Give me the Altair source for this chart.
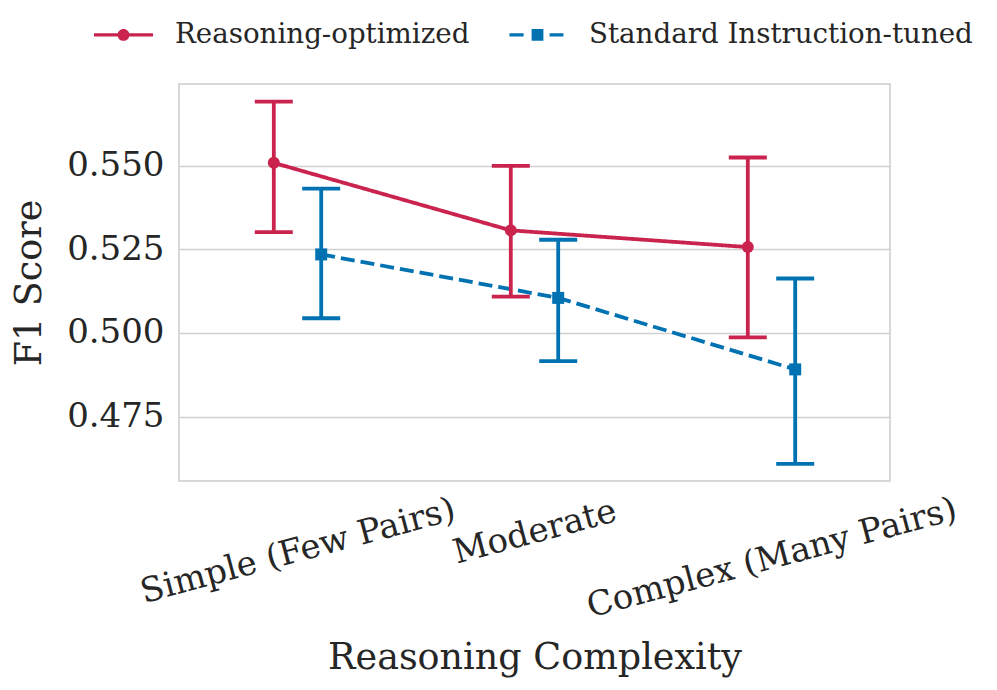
import json
import altair as alt
import pandas as pd

categories = ["Simple (Few Pairs)", "Moderate", "Complex (Many Pairs)"]
series_names = ["Reasoning-optimized", "Standard Instruction-tuned"]
reasoning_mean = [0.5509, 0.5307, 0.5257]
reasoning_lo = [0.5302, 0.5109, 0.4987]
reasoning_hi = [0.5692, 0.5500, 0.5525]
standard_mean = [0.5235, 0.5105, 0.4891]
standard_lo = [0.5044, 0.4916, 0.4608]
standard_hi = [0.5432, 0.5279, 0.5163]
y_ticks = [0.475, 0.500, 0.525, 0.550]

colors = ["#C9234E", "#0072B2"]
FONT = "DejaVu Serif"
TXT = "#262626"
LW = 3.8

rows = []
for i, c in enumerate(categories):
    rows.append(dict(category=c, idx=i, series=series_names[0],
                     mean=reasoning_mean[i], lo=reasoning_lo[i], hi=reasoning_hi[i]))
    rows.append(dict(category=c, idx=i, series=series_names[1],
                     mean=standard_mean[i], lo=standard_lo[i], hi=standard_hi[i]))
df = pd.DataFrame(rows)

label_expr = json.dumps(categories) + "[datum.value]"

x_enc = alt.X(
    "pos:Q",
    scale=alt.Scale(domain=[-0.5, 2.5], nice=False, zero=False),
    axis=alt.Axis(
        values=[0, 1, 2], labelExpr=label_expr, title="Reasoning Complexity",
        grid=False, domain=False, ticks=False, labelAngle=-15, labelLimit=0,
        labelOverlap=False, labelBound=False, labelFlush=False,
        labelAlign="center", labelBaseline="middle",
        labelPadding={"condition": [{"test": "datum.value == 0", "value": 70},
                                    {"test": "datum.value == 1", "value": 51}],
                      "value": 77},
        titlePadding=16,
    ),
)
y_scale = alt.Scale(domain=[0.4557, 0.5745], nice=False, zero=False)
y_axis = alt.Axis(values=y_ticks, format=".3f", title="F1 Score", grid=True,
                  domain=False, ticks=False, labelPadding=15, titlePadding=18)

color_scale = alt.Scale(domain=series_names, range=colors)
color_nolegend = alt.Color("series:N", scale=color_scale, legend=None)

base = alt.Chart(df).transform_calculate(
    pos="datum.idx + (datum.series == '%s' ? -0.1 : 0.1)" % series_names[0]
)

path_red = ("M-1,-0.055H1V0.055H-1Z "
            "M0.2,0A0.2,0.2,0,1,1,-0.2,0A0.2,0.2,0,1,1,0.2,0Z")
path_blue = ("M-0.95,-0.055H-0.47V0.055H-0.95Z "
             "M-0.2,-0.2H0.2V0.2H-0.2Z "
             "M0.41,-0.055H0.88V0.055H0.41Z")

leg = dict(orient="none", legendX=-85, legendY=-79, direction="horizontal", title=None,
           labelFont=FONT, labelFontSize=27.7, labelColor=TXT, labelOffset=22, labelLimit=0,
           columnPadding=38, symbolSize=3481, symbolOpacity=1, symbolStrokeWidth=0,
           padding=0)

legend_layer = base.mark_point(filled=True, opacity=0, size=10).encode(
    x=x_enc,
    y=alt.Y("mean:Q", scale=y_scale, axis=y_axis),
    color=alt.Color("series:N", scale=color_scale, legend=alt.Legend(**leg)),
    shape=alt.Shape("series:N", scale=alt.Scale(domain=series_names, range=[path_red, path_blue]),
                    legend=alt.Legend(**leg)),
)

lines = base.mark_line(strokeWidth=LW).encode(
    x="pos:Q",
    y="mean:Q",
    color=color_nolegend,
    strokeDash=alt.StrokeDash("series:N", scale=alt.Scale(domain=series_names, range=[[1, 0], [14, 6]]), legend=None),
    detail="series:N",
)

rules = base.mark_rule(strokeWidth=LW).encode(
    x="pos:Q", y="lo:Q", y2="hi:Q", color=color_nolegend,
)
caps_hi = base.mark_tick(orient="horizontal", size=38, thickness=LW, opacity=1).encode(
    x="pos:Q", y="hi:Q", color=color_nolegend,
)
caps_lo = base.mark_tick(orient="horizontal", size=38, thickness=LW, opacity=1).encode(
    x="pos:Q", y="lo:Q", color=color_nolegend,
)
points = base.mark_point(filled=True, size=144, opacity=1).encode(
    x="pos:Q", y="mean:Q", color=color_nolegend,
    shape=alt.condition("datum.series == '%s'" % series_names[0], alt.value("circle"), alt.value("square")),
)

chart = alt.layer(legend_layer, lines, rules, caps_hi, caps_lo, points).properties(
    width=711, height=397,
    autosize=alt.AutoSizeParams(type="none"),
    padding={"left": 171, "top": 76, "right": 99, "bottom": 204},
    background="white",
).configure_view(
    stroke="#cccccc", strokeWidth=1.5,
).configure_axis(
    labelFont=FONT, labelFontSize=34, labelColor=TXT,
    titleFont=FONT, titleFontSize=36.5, titleFontWeight="normal", titleColor=TXT,
    gridColor="#d0d0d0", gridWidth=1.3,
)

chart.save("out.html", embed_options={"renderer": "svg", "actions": False})
